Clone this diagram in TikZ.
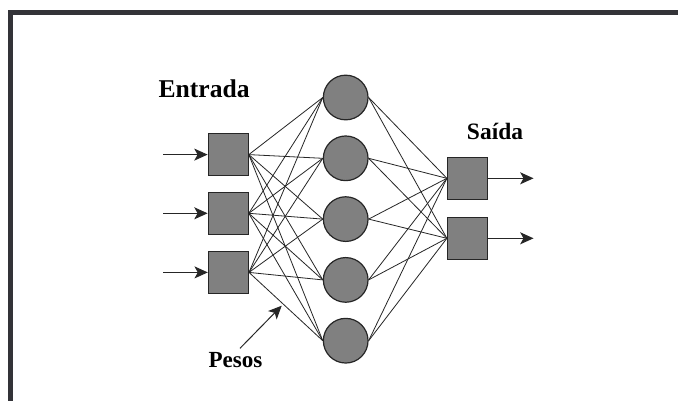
\documentclass[tikz,border=0pt]{standalone}
\usepackage{fontspec}
\setmainfont{Liberation Serif}
\usetikzlibrary{arrows.meta}
\definecolor{framec}{HTML}{333338}
\definecolor{nodefill}{HTML}{808080}
\begin{document}
\begin{tikzpicture}[x=0.75pt,y=-0.75pt,
  unitbox/.style={draw=black!85,line width=0.9pt,fill=nodefill,minimum width=30pt,minimum height=31.5pt,inner sep=0pt},
  neuron/.style={draw=black!85,line width=0.9pt,fill=nodefill,circle,minimum size=33.5pt,inner sep=0pt},
  wire/.style={draw=black!85,line width=0.6pt},
  sig/.style={draw=black!85,line width=0.75pt,-{Stealth[length=10pt,width=9pt,inset=2.5pt]}},
  lbl/.style={font=\bfseries,inner sep=0pt,anchor=base west}]
\useasboundingbox (0,0) rectangle (678,401);
\fill[white] (0,0) rectangle (678,401);
\fill[framec] (8,10) rectangle (678,15);
\fill[framec] (8,10) rectangle (13,401);
% input units
\node[unitbox] (i1) at (228.2,154.6) {};
\node[unitbox] (i2) at (228.2,213.3) {};
\node[unitbox] (i3) at (228.4,272.4) {};
% hidden units
\foreach \k in {1,...,5}{
  \node[neuron] (h\k) at (345.7,{97.5+60.8*(\k-1)}) {};
}
% output units
\node[unitbox] (o1) at (467.5,178.3) {};
\node[unitbox] (o2) at (467.5,238.3) {};
% connections
\foreach \i in {1,2,3}{
  \foreach \k in {1,...,5}{
    \draw[wire] (i\i.east) -- (h\k.west);
  }
}
\foreach \k in {1,...,5}{
  \foreach \j in {1,2}{
    \draw[wire] (h\k.east) -- (o\j.west);
  }
}
% input and output signals
\coordinate (a1) at (163,154.6);
\coordinate (a2) at (163,213.3);
\coordinate (a3) at (163,272.4);
\foreach \i in {1,2,3}{ \draw[sig] (a\i) -- (i\i.west); }
\coordinate (b1) at (533.5,178.3);
\coordinate (b2) at (533.5,238.3);
\foreach \j in {1,2}{ \draw[sig] (o\j.east) -- (b\j); }
% labels
\node[lbl,font=\fontsize{19.2pt}{22pt}\selectfont\bfseries] (entrada) at (158.3,97.3) {Entrada};
\node[lbl,font=\fontsize{17.6pt}{20pt}\selectfont\bfseries] (saida) at (466.7,139) {Saída};
\node[lbl,font=\fontsize{17.3pt}{20pt}\selectfont\bfseries] (pesos) at (208.3,367.7) {Pesos};
\coordinate (p1) at (240,348.3);
\coordinate (p2) at (281.7,305.7);
\draw[sig] (p1) -- (p2);
\end{tikzpicture}
\end{document}
